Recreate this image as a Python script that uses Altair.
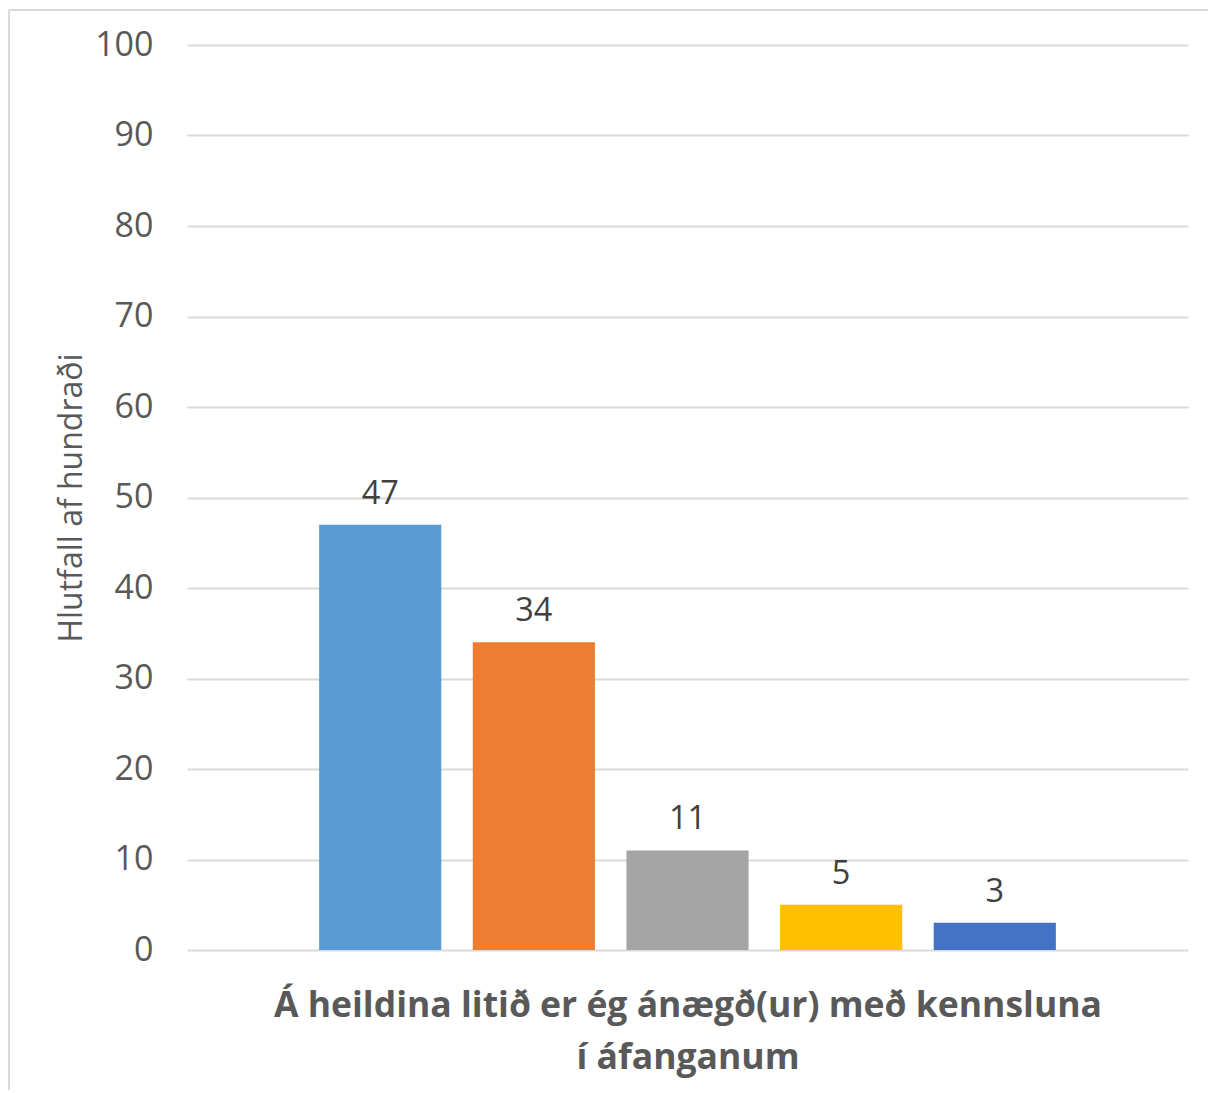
import altair as alt
import pandas as pd

categories = ["Mjög sammála", "Frekar sammála", "Hvorki né", "Frekar ósammála", "Mjög ósammála"]
values = [47, 34, 11, 5, 3]
colors = ["#5B9BD5", "#ED7D31", "#A5A5A5", "#FFC000", "#4472C4"]

df = pd.DataFrame({"cat": categories, "val": values})

FONT = "Open Sans"

x = alt.X(
    "cat:N",
    sort=categories,
    scale=alt.Scale(paddingInner=0.205, paddingOuter=0.86),
    axis=alt.Axis(
        labels=False, ticks=False, domain=False,
        title=["Á heildina litið er ég ánægð(ur) með kennsluna", "í áfanganum"],
        titleFont=FONT, titleFontSize=35.5, titleFontWeight="bold",
        titleColor="#595959", titlePadding=38, titleLineHeight=52,
    ),
)
y = alt.Y(
    "val:Q",
    scale=alt.Scale(domain=[0, 100], nice=False),
    axis=alt.Axis(
        values=list(range(0, 101, 10)), ticks=False, domain=False,
        labelFont=FONT, labelFontSize=34, labelColor="#595959", labelPadding=34,
        gridColor="#D9D9D9", gridWidth=2,
        title="Hlutfall af hundraði", titleFont=FONT, titleFontSize=32,
        titleFontWeight="normal", titleColor="#595959", titlePadding=6,
    ),
)

bars = alt.Chart(df).mark_bar().encode(
    x=x, y=y,
    color=alt.Color("cat:N", sort=categories,
                    scale=alt.Scale(domain=categories, range=colors), legend=None),
)

labels = alt.Chart(df).mark_text(
    dy=-14, baseline="bottom", font=FONT, fontSize=32.5, color="#404040"
).encode(x=alt.X("cat:N", sort=categories), y="val:Q", text="val:Q")

border = alt.Chart(alt.Data(values=[{}])).mark_rule(color="#D9D9D9", strokeWidth=2).encode(
    x=alt.value(-178), y=alt.value(-35), y2=alt.value(1100)
)
border_top = alt.Chart(alt.Data(values=[{}])).mark_rule(color="#D9D9D9", strokeWidth=2).encode(
    x=alt.value(-178), x2=alt.value(1040), y=alt.value(-35)
)

chart = alt.layer(border, border_top, bars, labels).properties(
    width=1001, height=905,
    autosize=alt.AutoSizeParams(type="none"),
    padding={"left": 179, "top": 37, "right": 20, "bottom": 140},
).configure(background="white").configure_view(strokeWidth=0, stroke="transparent")

chart.save("out.html", embed_options={"renderer": "svg", "actions": False})
